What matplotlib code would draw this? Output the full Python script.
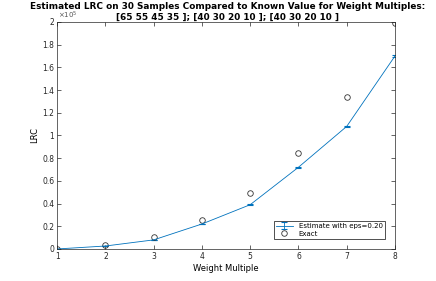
import matplotlib
matplotlib.use("Agg")
import matplotlib.pyplot as plt
import numpy as np

weights = [1, 2, 3, 4, 5, 6, 7, 8]
estimate = [0.0, 0.026e5, 0.08e5, 0.22e5, 0.39e5, 0.72e5, 1.08e5, 1.70e5]
est_err = [0.0, 0.003e5, 0.003e5, 0.004e5, 0.005e5, 0.006e5, 0.007e5, 0.012e5]
exact = [0.0, 0.035e5, 0.106e5, 0.255e5, 0.49e5, 0.846e5, 1.34e5, 1.99e5]

plt.rcParams['font.family'] = 'DejaVu Sans'
fig = plt.figure(figsize=(4.36, 2.81), dpi=100)
ax = fig.add_axes([0.131, 0.114, 0.775, 0.808])

h1 = ax.errorbar(weights, estimate, yerr=est_err, color='#0072BD', lw=0.6, capsize=2.5,
                 elinewidth=0.6, capthick=0.8, label='Estimate with eps=0.20')
h2, = ax.plot(weights, exact, 'o', mfc='none', mec='#333333', ms=4, mew=0.6, label='Exact')

ax.set_xlim(1, 8)
ax.set_ylim(0, 2e5)
ax.set_xticks(range(1, 9))
yt = np.arange(0, 2.01, 0.2)
ax.set_yticks(yt * 1e5)
ax.set_yticklabels(['0'] + ['%g' % v for v in yt[1:]])
ax.tick_params(direction='in', top=True, right=True, labelsize=5.5, length=3,
               width=0.5, colors='#262626', pad=2)
for s in ax.spines.values():
    s.set_linewidth(0.5)
    s.set_color('#262626')
ax.text(0.003, 1.003, r'$\times10^5$', transform=ax.transAxes, fontsize=5, color='#555555',
        ha='left', va='bottom')
ax.set_xlabel('Weight Multiple', fontsize=6, labelpad=2)
ax.set_ylabel('LRC', fontsize=6, labelpad=2)
fig.text(0.521, 0.978, 'Estimated LRC on 30 Samples Compared to Known Value for Weight Multiples:',
         fontsize=6.4, fontweight='bold', ha='center', va='center')
fig.text(0.521, 0.938, '[65 55 45 35 ]; [40 30 20 10 ]; [40 30 20 10 ]',
         fontsize=6.4, fontweight='bold', ha='center', va='center')
leg = ax.legend([h1, h2], ['Estimate with eps=0.20', 'Exact'], loc='lower right',
                fontsize=5, frameon=True, fancybox=False,
                edgecolor='black', borderpad=0.3, handlelength=2.5, labelspacing=0.2,
                bbox_to_anchor=(0.98, 0.03))
leg.get_frame().set_linewidth(0.6)
fig.savefig('out.png', dpi=100)
